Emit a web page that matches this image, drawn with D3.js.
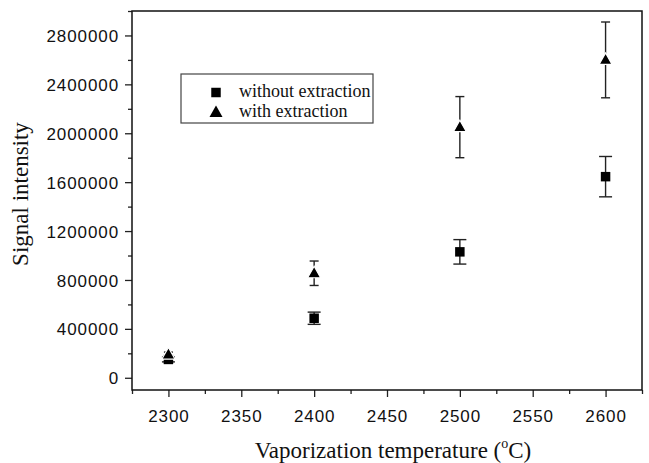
<!DOCTYPE html>
<html>
<head>
<meta charset="utf-8">
<script src="https://cdn.jsdelivr.net/npm/d3@7"></script>
<style>
  html, body { margin: 0; padding: 0; background: #fff; }
  svg { display: block; }
</style>
</head>
<body>
<svg id="chart" width="649" height="463"></svg>
<script>
// Vaporization temperatures (°C)
const temperatures = [2300, 2400, 2500, 2600];
// Signal intensity without extraction, and its error
const withoutExtraction = [150000, 487000, 1030000, 1645000];
const withoutExtractionErr = [20000, 50000, 100000, 165000];
// Signal intensity with extraction, and its error
const withExtraction = [190000, 855000, 2050000, 2600000];
const withExtractionErr = [20000, 100000, 250000, 310000];
// Axis ticks
const xTicks = [2300, 2350, 2400, 2450, 2500, 2550, 2600];
const yTicks = [0, 400000, 800000, 1200000, 1600000, 2000000, 2400000, 2800000];
const seriesNames = ["without extraction", "with extraction"];

const svg = d3.select("#chart");
const margin = { left: 132, top: 11, right: 7, bottom: 73 };
const W = 649, H = 463;

const x = d3.scaleLinear().domain([2275, 2625]).range([margin.left, W - margin.right]);
const y = d3.scaleLinear().domain([-100000, 3000000]).range([H - margin.bottom, margin.top]);

const sans = "'Liberation Sans', Arial, sans-serif";
const serif = "'Liberation Serif', 'Times New Roman', serif";

// Minor ticks
const xMinor = d3.range(2275, 2626, 25).filter(v => !xTicks.includes(v));
const yMinor = d3.range(0, 3000001, 200000).filter(v => !yTicks.includes(v));

svg.append("g")
  .attr("transform", `translate(0,${y.range()[0]})`)
  .call(d3.axisBottom(x).tickValues(xTicks).tickSize(7).tickPadding(13).tickFormat(d3.format("d")));
svg.append("g")
  .attr("transform", `translate(0,${y.range()[0]})`)
  .call(d3.axisBottom(x).tickValues(xMinor).tickSize(4).tickFormat(""));

const yAxis = svg.append("g")
  .attr("transform", `translate(${x.range()[0]},0)`)
  .call(d3.axisLeft(y).tickValues(yTicks).tickSize(7).tickPadding(6).tickFormat(d3.format("d")));
svg.append("g")
  .attr("transform", `translate(${x.range()[0]},0)`)
  .call(d3.axisLeft(y).tickValues(yMinor).tickSize(4).tickFormat(""));

svg.selectAll(".tick line").attr("stroke", "#222").attr("stroke-width", 1.3);
svg.selectAll(".domain").remove();
svg.selectAll(".tick text")
  .attr("font-family", sans)
  .attr("font-size", 17)
  .attr("letter-spacing", 0.9)
  .attr("fill", "#111");
yAxis.selectAll(".tick text").attr("dy", "0.36em");

// Plot frame
svg.append("rect")
  .attr("x", x.range()[0]).attr("y", y.range()[1])
  .attr("width", x.range()[1] - x.range()[0])
  .attr("height", y.range()[0] - y.range()[1])
  .attr("fill", "none").attr("stroke", "#111").attr("stroke-width", 1.5);

// Axis titles
const xTitle = svg.append("text")
  .attr("x", 393)
  .attr("y", 458)
  .attr("text-anchor", "middle")
  .attr("font-family", serif)
  .attr("font-size", 23)
  .attr("fill", "#111");
xTitle.append("tspan").text("Vaporization temperature (");
xTitle.append("tspan").attr("font-size", 14).attr("dy", -10).text("o");
xTitle.append("tspan").attr("dy", 10).text("C)");

svg.append("text")
  .attr("transform", `translate(28,194) rotate(-90)`)
  .attr("text-anchor", "middle")
  .attr("font-family", serif)
  .attr("font-size", 23)
  .attr("fill", "#111")
  .text("Signal intensity");

// Data
const rows = temperatures.map((t, i) => ({
  t,
  a: withoutExtraction[i], ae: withoutExtractionErr[i],
  b: withExtraction[i], be: withExtractionErr[i]
}));

function errorBars(g, key, errKey, cap) {
  const eb = g.selectAll(null).data(rows).enter().append("g")
    .attr("stroke", "#222").attr("stroke-width", 1.4);
  eb.append("line")
    .attr("x1", d => x(d.t)).attr("x2", d => x(d.t))
    .attr("y1", d => y(d[key] + d[errKey])).attr("y2", d => y(d[key] - d[errKey]));
  eb.append("line")
    .attr("x1", d => x(d.t) - cap / 2).attr("x2", d => x(d.t) + cap / 2)
    .attr("y1", d => y(d[key] + d[errKey])).attr("y2", d => y(d[key] + d[errKey]));
  eb.append("line")
    .attr("x1", d => x(d.t) - cap / 2).attr("x2", d => x(d.t) + cap / 2)
    .attr("y1", d => y(d[key] - d[errKey])).attr("y2", d => y(d[key] - d[errKey]));
}

const plot = svg.append("g");
errorBars(plot, "a", "ae", 13);
errorBars(plot, "b", "be", 9);

const square = d3.symbol().type(d3.symbolSquare).size(90);
const triangle = "M0,-7 L6.5,4.5 L-6.5,4.5 Z";

plot.selectAll(".sq").data(rows).enter().append("path")
  .attr("class", "sq")
  .attr("transform", d => `translate(${x(d.t)},${y(d.a)})`)
  .attr("d", square).attr("fill", "#000");

plot.selectAll(".tri").data(rows).enter().append("path")
  .attr("class", "tri")
  .attr("transform", d => `translate(${x(d.t)},${y(d.b)})`)
  .attr("d", triangle).attr("fill", "#000")
  .attr("stroke", "#fff").attr("stroke-width", 1.2);

// Legend
const legend = svg.append("g");
legend.append("rect")
  .attr("x", 181).attr("y", 74).attr("width", 192).attr("height", 49)
  .attr("fill", "#fff").attr("stroke", "#444").attr("stroke-width", 1.2);
legend.append("path")
  .attr("transform", "translate(216,92.5)")
  .attr("d", square).attr("fill", "#000");
legend.append("path")
  .attr("transform", "translate(216,112.5)")
  .attr("d", triangle).attr("fill", "#000");
legend.selectAll(".lt").data(seriesNames).enter().append("text")
  .attr("x", 239)
  .attr("y", (d, i) => 96.5 + i * 20)
  .attr("font-family", serif)
  .attr("font-size", 18)
  .attr("fill", "#111")
  .text(d => d);
</script>
</body>
</html>
